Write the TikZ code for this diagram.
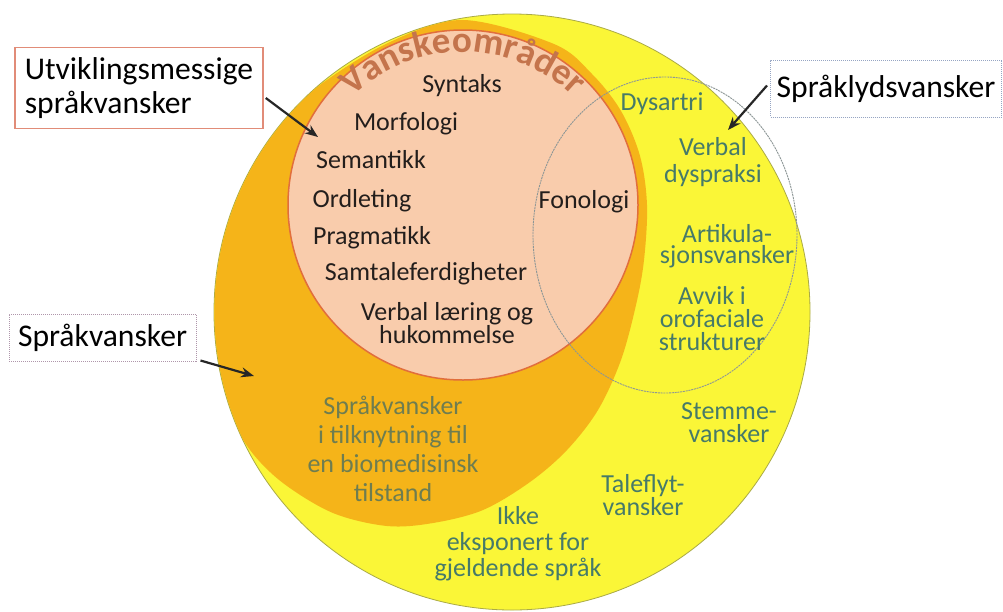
\documentclass[tikz,border=0pt]{standalone}
\usepackage{fontspec}
\setmainfont{Carlito}
\usetikzlibrary{arrows.meta,decorations.text}
\definecolor{yel}{RGB}{250,246,55}
\definecolor{yeledge}{RGB}{170,170,70}
\definecolor{org}{RGB}{245,180,25}
\definecolor{peach}{RGB}{249,204,172}
\definecolor{peachedge}{RGB}{225,110,60}
\definecolor{vtxt}{RGB}{196,116,76}
\definecolor{dark}{RGB}{35,30,28}
\definecolor{teal}{RGB}{70,122,105}
\definecolor{olive}{RGB}{110,125,80}
\definecolor{box1}{RGB}{225,140,120}
\definecolor{box2}{RGB}{150,165,195}
\definecolor{box3}{RGB}{175,150,170}
\definecolor{ring}{RGB}{140,150,150}
\tikzset{
  blk/.style={font=\fontsize{26}{23}\selectfont, text=dark, inner sep=0pt, align=center},
  grn/.style={font=\fontsize{26}{23}\selectfont, text=teal, inner sep=0pt, align=center},
  olv/.style={font=\fontsize{26}{29}\selectfont, text=olive, inner sep=0pt, align=center},
  lbl/.style={font=\fontsize{31.6}{34}\selectfont, text=black, align=left, fill=white, inner sep=0pt},
  arr/.style={line width=2.2pt, draw=black!85, -{Stealth[length=13pt,width=10pt]}}
}
\begin{document}
\begin{tikzpicture}[x=1pt,y=1pt]
\useasboundingbox (0,0) rectangle (1003,-611);
\fill[white] (0,0) rectangle (1003,-611);
% big yellow circle
\coordinate (yc) at (512,-312);
\filldraw[fill=yel, draw=yeledge, line width=0.8pt] (yc) circle[radius=298];
% orange region
\begin{scope}
\clip (yc) circle[radius=297.6];
\fill[org] plot[smooth cycle, tension=0.55] coordinates {
 (463,-20) (554,-44) (592,-74) (621,-111) (640,-156) (647,-205) (644,-260)
 (636,-305) (621,-360) (598,-410) (567,-450) (530,-482) (483,-510) (433,-523)
 (387,-526) (333,-513) (283,-483) (250,-450) (228,-410) (210,-360) (205,-300)
 (215,-240) (235,-185) (268,-133) (320,-85) (390,-42)};
\end{scope}
% peach circle
\filldraw[fill=peach, draw=peachedge, line width=1.5pt] (463,-205) circle[radius=175];
% speech sound ring
\draw[ring, line width=0.9pt, dash pattern=on 2pt off 0.8pt] (665,-235) ellipse[x radius=132, y radius=158];
% arced title
\path[decorate, decoration={text along path, text align=center, text color=vtxt,
  text={|\fontsize{37}{37}\selectfont\bfseries|Vanskeområder}}]
  (463,-210) ++(150:158) arc[start angle=150, end angle=30, radius=158];
% inner texts
\node[blk] (syn) at (462,-86) {Syntaks};
\node[blk] (mor) at (406,-124) {Morfologi};
\node[blk] (sem) at (371,-160) {Semantikk};
\node[blk] (ord) at (362,-201) {Ordleting};
\node[blk] (pra) at (372,-238) {Pragmatikk};
\node[blk] (sam) at (426,-274) {Samtaleferdigheter};
\node[blk] (ver) at (447,-323) {Verbal læring og\\hukommelse};
\node[blk] (fon) at (584,-202) {Fonologi};
% speech sound texts
\node[grn] (dys) at (662,-104) {Dysartri};
\node[grn, font=\fontsize{26}{27}\selectfont] (vdy) at (713,-162) {Verbal\\dyspraksi};
\node[grn, font=\fontsize{26}{21}\selectfont] (art) at (727,-246) {Artikula-\\sjonsvansker};
\node[grn] (avv) at (712,-319) {Avvik i\\orofaciale\\strukturer};
\node[grn] (ste) at (729,-423) {Stemme-\\vansker};
\node[grn, font=\fontsize{26}{21}\selectfont] (tal) at (643,-495) {Taleflyt-\\vansker};
\node[grn, font=\fontsize{26}{26}\selectfont] (ikk) at (518,-544) {Ikke\\eksponert for\\gjeldende språk};
\node[olv] (bio) at (393,-449) {Språkvansker\\i tilknytning til\\en biomedisinsk\\tilstand};
% label boxes
\node[lbl, draw=box1, line width=1.5pt, minimum width=248pt, minimum height=81pt] (utv) at (139,-88) {Utviklingsmessige\\språkvansker};
\node[lbl, draw=box2, line width=1pt, dash pattern=on 1pt off 1pt, minimum width=231pt, minimum height=57pt] (sly) at (886,-88.5) {Språklydsvansker};
\node[lbl, draw=box3, line width=1pt, dash pattern=on 1pt off 1pt, minimum width=187pt, minimum height=47pt] (spr) at (102.5,-337.5) {Språkvansker};
% arrow targets
\coordinate (t1) at (318,-137);
\coordinate (t2) at (728,-130);
\coordinate (t3) at (254,-376);
\draw[arr] ([yshift=-10pt, xshift=2pt]utv.east) -- (t1);
\draw[arr] ([xshift=-3pt, yshift=3pt]sly.west) -- (t2);
\draw[arr] ([xshift=4pt, yshift=1pt]spr.south east) -- (t3);
\end{tikzpicture}
\end{document}
